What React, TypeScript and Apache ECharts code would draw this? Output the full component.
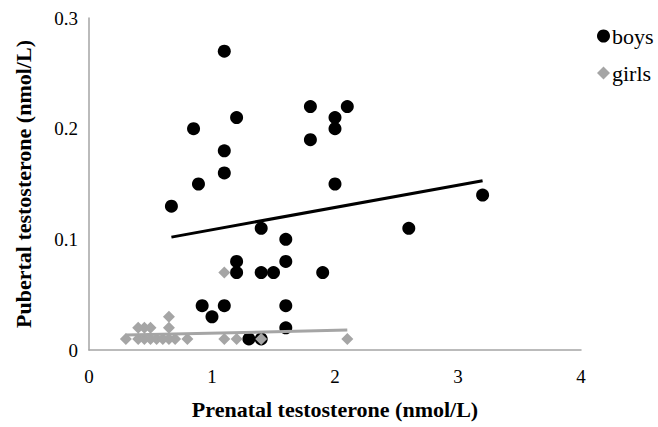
import React, { useEffect, useRef } from "react";
import * as echarts from "echarts";

const boysX = [0.67, 0.85, 0.89, 1.1, 1.1, 1.1, 1.2, 1.8, 2.1, 2.0, 2.0, 1.8, 2.0, 3.2, 2.6, 1.4, 1.6, 1.2, 1.6, 1.2, 1.4, 1.5, 1.9, 0.92, 1.1, 1.0, 1.6, 1.6, 1.3, 1.4];
const boysY = [0.13, 0.2, 0.15, 0.27, 0.18, 0.16, 0.21, 0.22, 0.22, 0.21, 0.2, 0.19, 0.15, 0.14, 0.11, 0.11, 0.1, 0.08, 0.08, 0.07, 0.07, 0.07, 0.07, 0.04, 0.04, 0.03, 0.04, 0.02, 0.01, 0.01];

const girlsX = [0.3, 0.4, 0.45, 0.5, 0.55, 0.6, 0.65, 0.7, 0.8, 1.1, 1.2, 1.4, 2.1, 0.4, 0.45, 0.5, 0.65, 0.65, 1.1];
const girlsY = [0.01, 0.01, 0.01, 0.01, 0.01, 0.01, 0.01, 0.01, 0.01, 0.01, 0.01, 0.01, 0.01, 0.02, 0.02, 0.02, 0.02, 0.03, 0.07];

const boysTrendX = [0.67, 3.2];
const boysTrendY = [0.102, 0.153];
const girlsTrendX = [0.3, 2.1];
const girlsTrendY = [0.0135, 0.018];

const xTicks = [0, 1, 2, 3, 4];
const yTicks = [0, 0.1, 0.2, 0.3];

const zip = (xs: number[], ys: number[]) => xs.map((x, i) => [x, ys[i]]);

const FONT = "Liberation Serif";
const GRAY = "#A5A5A5";

export default function App() {
  const ref = useRef<HTMLDivElement>(null);
  useEffect(() => {
    if (!ref.current) return;
    const chart = echarts.init(ref.current, null, { renderer: "svg" });
    chart.setOption({
      animation: false,
      backgroundColor: "#fff",
      textStyle: { fontFamily: FONT },
      grid: { left: 89, top: 18, right: 77, bottom: 77, containLabel: false },
      legend: {
        data: [
          { name: "boys", icon: "circle", itemStyle: { color: "#000", opacity: 1 } },
          { name: "girls", icon: "diamond", itemStyle: { color: GRAY, opacity: 1 } },
        ],
        orient: "vertical",
        left: 592,
        top: 20,
        itemWidth: 13,
        itemHeight: 13,
        itemGap: 15,
        textStyle: { fontFamily: FONT, fontSize: 22, color: "#000", padding: [0, 0, 0, -3] },
      },
      xAxis: {
        type: "value",
        min: 0,
        max: 4,
        interval: 1,
        splitLine: { show: false },
        axisTick: { show: false },
        axisLine: { show: true, lineStyle: { color: GRAY, width: 1.5 } },
        axisLabel: {
          fontFamily: FONT,
          fontSize: 19,
          color: "#000",
          margin: 17,
          formatter: (v: number) => (xTicks.includes(v) ? String(v) : ""),
        },
        name: "Prenatal testosterone (nmol/L)",
        nameLocation: "middle",
        nameGap: 48,
        nameTextStyle: { fontFamily: FONT, fontSize: 22, fontWeight: "bold", color: "#000" },
      },
      yAxis: {
        type: "value",
        min: 0,
        max: 0.3,
        interval: 0.1,
        splitLine: { show: false },
        axisTick: { show: false },
        axisLine: { show: true, lineStyle: { color: GRAY, width: 1.5 } },
        axisLabel: {
          fontFamily: FONT,
          fontSize: 19,
          color: "#000",
          margin: 11,
          formatter: (v: number) => {
            const t = yTicks.find((y) => Math.abs(y - v) < 1e-9);
            return t === undefined ? "" : String(t);
          },
        },
        name: "Pubertal testosterone (nmol/L)",
        nameLocation: "middle",
        nameGap: 55,
        nameTextStyle: { fontFamily: FONT, fontSize: 22, fontWeight: "bold", color: "#000" },
      },
      series: [
        {
          name: "boys",
          type: "scatter",
          symbol: "circle",
          symbolSize: 13,
          itemStyle: { color: "#000", opacity: 1 },
          data: zip(boysX, boysY),
          z: 3,
        },
        {
          name: "girls",
          type: "scatter",
          symbol: "diamond",
          symbolSize: 12,
          itemStyle: { color: GRAY, opacity: 1 },
          data: zip(girlsX, girlsY),
          z: 4,
        },
        {
          name: "boys trend",
          type: "line",
          showSymbol: false,
          symbol: "none",
          silent: true,
          lineStyle: { color: "#000", width: 3 },
          data: zip(boysTrendX, boysTrendY),
          z: 5,
        },
        {
          name: "girls trend",
          type: "line",
          showSymbol: false,
          symbol: "none",
          silent: true,
          lineStyle: { color: GRAY, width: 3 },
          data: zip(girlsTrendX, girlsTrendY),
          z: 5,
        },
      ],
    });
    return () => chart.dispose();
  }, []);
  return <div ref={ref} style={{ width: 658, height: 427, position: "absolute", left: 0, top: 0 }} />;
}
